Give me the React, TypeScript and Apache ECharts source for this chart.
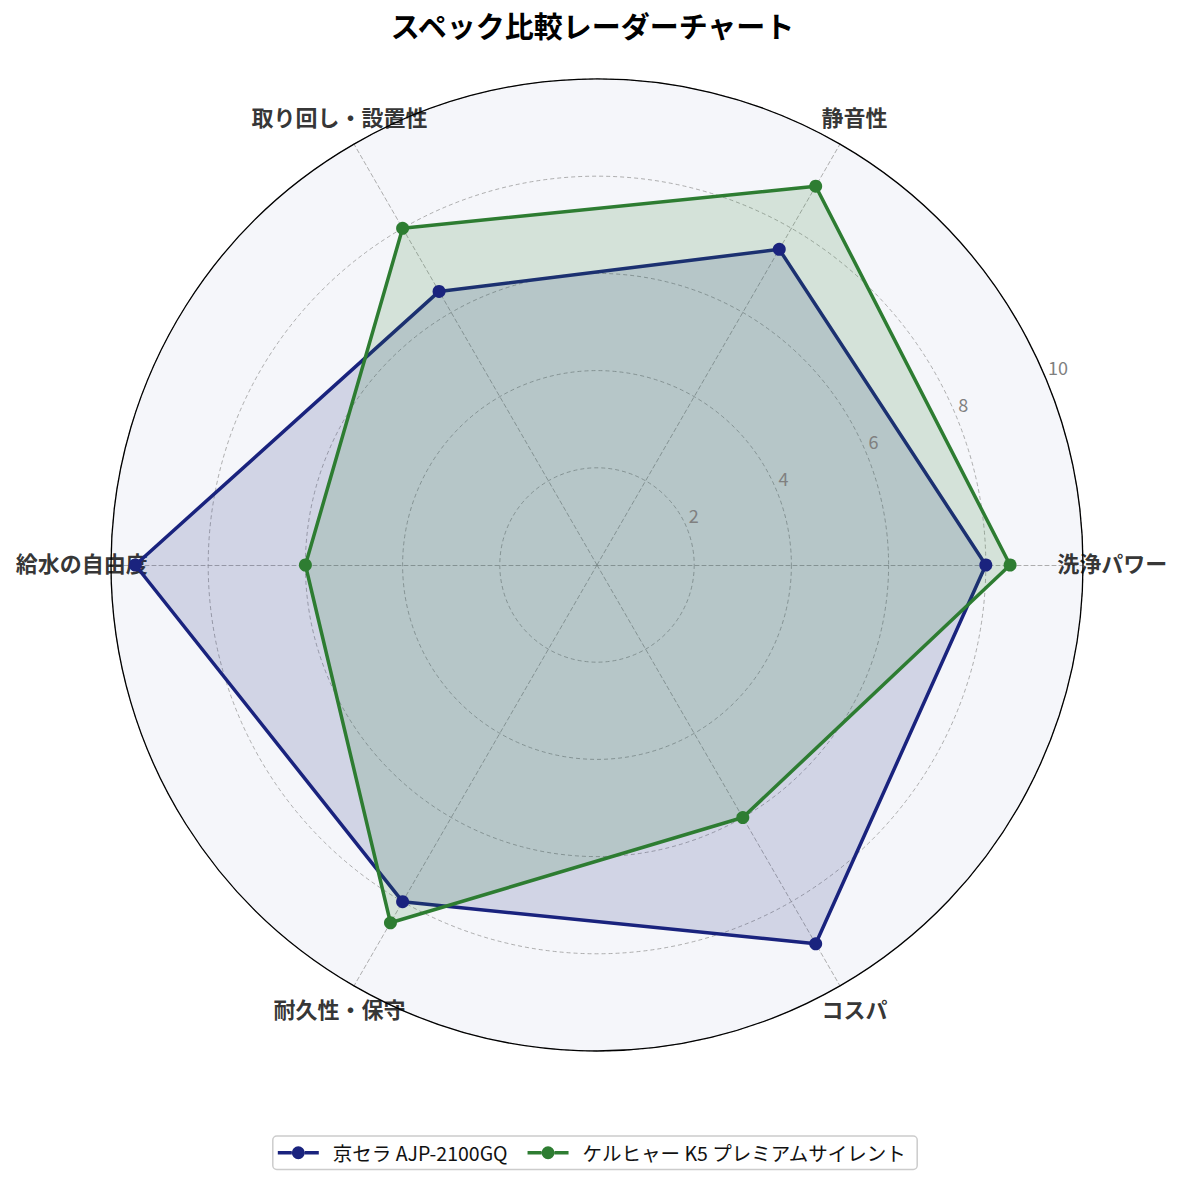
import React, { useEffect, useRef } from "react";
import * as echarts from "echarts";

const categories = ["洗浄パワー", "静音性", "取り回し・設置性", "給水の自由度", "耐久性・保守", "コスパ"];
const seriesNames = ["京セラ AJP-2100GQ", "ケルヒャー K5 プレミアムサイレント"];
const kyoceraValues = [8, 7.5, 6.5, 9.5, 8, 9];
const kaercherValues = [8.5, 9, 8, 6, 8.5, 6];
const radialTicks = [2, 4, 6, 8, 10];
const axisMax = 10;
const title = "スペック比較レーダーチャート";

const NAVY = "#1a237e";
const GREEN = "#2e7d32";
const FONT = "'Noto Sans CJK JP', 'Noto Sans', sans-serif";

const legendIcon =
  "path://M0,5.2H14V8.8H0Z M27,5.2H41V8.8H27Z M14,7A6.5,6.5 0 1,1 27,7A6.5,6.5 0 1,1 14,7Z";

export default function App() {
  const ref = useRef<HTMLDivElement>(null);

  useEffect(() => {
    if (!ref.current) return;
    const chart = echarts.init(ref.current, null, { renderer: "svg" });
    const center = [597, 565];
    const radius = 486;
    const step = 360 / categories.length;

    const option: any = {
      animation: false,
      backgroundColor: "#ffffff",
      textStyle: { fontFamily: FONT },
      title: {
        text: title,
        left: "center",
        top: 5,
        padding: [5, 5, 5, 16],
        textStyle: { fontSize: 29, fontWeight: "bold", color: "#000", fontFamily: FONT },
      },
      legend: {
        data: seriesNames.map((n, i) => ({ name: n, icon: legendIcon, itemStyle: { color: i === 0 ? NAVY : GREEN } })),
        left: "center",
        top: 1136,
        padding: [7, 10, 7, 5],
        itemGap: 20,
        itemWidth: 41,
        itemHeight: 13,
        borderColor: "#cccccc",
        borderWidth: 1.5,
        borderRadius: 4,
        backgroundColor: "#ffffff",
        textStyle: { fontSize: 19.5, color: "#111", fontFamily: FONT, padding: [0, 0, 0, 9] },
      },
      radar: {
        center,
        radius,
        startAngle: 0,
        shape: "circle",
        splitNumber: radialTicks.length,
        indicator: categories.map((c) => ({ name: c, min: 0, max: axisMax })),
        axisName: { show: false },
        axisLine: { lineStyle: { color: "#9a9a9a", type: [4, 3], width: 0.8 } },
        splitLine: { lineStyle: { color: "#9a9a9a", type: [4, 3], width: 0.8 } },
        splitArea: { show: true, areaStyle: { color: ["#f5f6fa"] } },
      },
      polar: [
        { center, radius },
        { center, radius },
      ],
      angleAxis: [
        {
          polarIndex: 0,
          type: "value",
          min: 0,
          max: 360,
          startAngle: 22.5,
          clockwise: false,
          z: 5,
          axisLine: { show: true, lineStyle: { color: "#000", width: 1.3 } },
          axisTick: { show: false },
          axisLabel: { show: false },
          splitLine: { show: false },
        },
        {
          polarIndex: 1,
          type: "value",
          min: 0,
          max: 360,
          startAngle: 0,
          clockwise: false,
          axisLine: { show: false },
          axisTick: { show: false },
          axisLabel: { show: false },
          splitLine: { show: false },
        },
      ],
      radiusAxis: [
        {
          polarIndex: 0,
          type: "value",
          min: 0,
          max: axisMax,
          interval: 2,
          z: 5,
          axisLine: { show: false },
          axisTick: { show: false },
          splitLine: { show: false },
          axisLabel: {
            show: true,
            margin: 0,
            align: "left",
            verticalAlign: "bottom",
            lineHeight: 25,
            color: "#808080",
            fontSize: 18,
            fontFamily: FONT,
            padding: [0, 0, 0, 2],
            formatter: (v: number) => (radialTicks.includes(v) ? String(v) : ""),
          },
        },
        {
          polarIndex: 1,
          type: "value",
          min: 0,
          max: axisMax,
          axisLine: { show: false },
          axisTick: { show: false },
          splitLine: { show: false },
          axisLabel: { show: false },
        },
      ],
      series: [
        {
          type: "scatter",
          coordinateSystem: "polar",
          polarIndex: 1,
          z: 1,
          clip: false,
          silent: true,
          symbolSize: 0,
          data: categories.map((c, i) => ({ value: [10.6, i * step], name: c })),
          label: {
            show: true,
            position: "inside",
            offset: [0, -3],
            formatter: (p: any) => p.name,
            fontSize: 22,
            fontWeight: "bold",
            color: "#000",
            fontFamily: FONT,
          },
        },
        {
          type: "radar",
          z: 2,
          symbol: "circle",
          symbolSize: 13,
          data: [
            {
              name: seriesNames[0],
              value: kyoceraValues,
              lineStyle: { color: NAVY, width: 3.5 },
              itemStyle: { color: NAVY },
              areaStyle: { color: NAVY, opacity: 0.16 },
            },
            {
              name: seriesNames[1],
              value: kaercherValues,
              lineStyle: { color: GREEN, width: 3.5 },
              itemStyle: { color: GREEN },
              areaStyle: { color: GREEN, opacity: 0.16 },
            },
          ],
        },
      ],
    };
    chart.setOption(option);
    return () => chart.dispose();
  }, []);

  return (
    <div
      ref={ref}
      style={{ position: "absolute", left: 0, top: 0, width: 1185, height: 1186 }}
    />
  );
}
